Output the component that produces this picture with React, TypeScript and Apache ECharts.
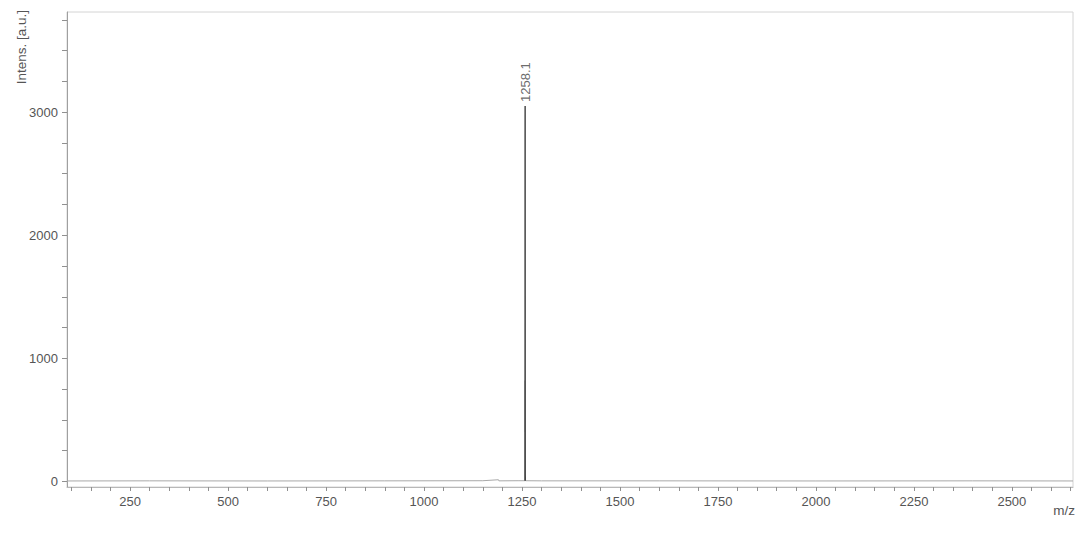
import React, { useEffect, useRef } from "react";
import * as echarts from "echarts";

// m/z values and intensities
const mzValues = [89, 300, 600, 900, 1150, 1190, 1191, 1240, 1257.4, 1257.7, 1257.8, 1257.9, 1258.0, 1258.1, 1258.2, 1258.3, 1258.5, 1258.8, 1300, 1600, 2000, 2400, 2656];
const intensities = [4, 5, 4, 5, 6, 14, 5, 6, 6, 820, 400, 1120, 2750, 3050, 1500, 820, 60, 6, 5, 5, 4, 5, 4];
const peakLabelMz = 1258.1;

const xTickValues = [100, 150, 200, 250, 300, 350, 400, 450, 500, 550, 600, 650, 700, 750, 800, 850, 900, 950, 1000, 1050, 1100, 1150, 1200, 1250, 1300, 1350, 1400, 1450, 1500, 1550, 1600, 1650, 1700, 1750, 1800, 1850, 1900, 1950, 2000, 2050, 2100, 2150, 2200, 2250, 2300, 2350, 2400, 2450, 2500, 2550, 2600, 2650];
const xLabelValues = [250, 500, 750, 1000, 1250, 1500, 1750, 2000, 2250, 2500];
const yTickValues = [0, 250, 500, 750, 1000, 1250, 1500, 1750, 2000, 2250, 2500, 2750, 3000, 3250, 3500, 3750];
const yLabelValues = [0, 1000, 2000, 3000];

export default function App() {
  const ref = useRef<HTMLDivElement>(null);
  useEffect(() => {
    if (!ref.current) return;
    const chart = echarts.init(ref.current, undefined, { renderer: "svg" });
    const font = "'Liberation Sans', Arial, sans-serif";
    const allPoints = mzValues.map((m, i) => [m, intensities[i]]);
    const peakPoints = allPoints.filter((p) => p[0] >= 1257 && p[0] <= 1259);
    const labelIdx = mzValues.indexOf(peakLabelMz);
    chart.setOption({
      animation: false,
      backgroundColor: "#ffffff",
      grid: {
        left: 67,
        right: 6,
        top: 12,
        bottom: 53,
        show: true,
        borderColor: "#d4d4d4",
        borderWidth: 1,
        backgroundColor: "transparent",
      },
      xAxis: {
        type: "value",
        min: 89,
        max: 2656,
        axisLine: { show: true, onZero: false, lineStyle: { color: "#b8b8b8", width: 1 } },
        axisTick: { show: true, customValues: xTickValues, length: 4, lineStyle: { color: "#909090" } },
        axisLabel: {
          customValues: xLabelValues,
          formatter: (v: number) => String(v),
          color: "#555",
          fontSize: 13,
          fontFamily: font,
          margin: 8,
        },
        splitLine: { show: false },
      },
      yAxis: {
        type: "value",
        min: -45,
        max: 3814,
        axisLine: { show: true, lineStyle: { color: "#a0a0a0", width: 1 } },
        axisTick: { show: true, customValues: yTickValues, length: 5, lineStyle: { color: "#909090" } },
        axisLabel: {
          customValues: yLabelValues,
          formatter: (v: number) => String(v),
          color: "#555",
          fontSize: 13,
          fontFamily: font,
          margin: 9,
        },
        splitLine: { show: false },
      },
      series: [
        {
          type: "line",
          data: allPoints,
          showSymbol: false,
          symbol: "none",
          lineStyle: { color: "#a8a8a8", width: 1 },
          z: 2,
        },
        {
          type: "line",
          data: peakPoints,
          showSymbol: false,
          symbol: "none",
          lineStyle: { color: "#444", width: 1.2 },
          z: 3,
        },
        {
          type: "scatter",
          data: [[mzValues[labelIdx], intensities[labelIdx]]],
          symbolSize: 0.1,
          itemStyle: { color: "transparent" },
          label: {
            show: true,
            formatter: String(peakLabelMz),
            position: "top",
            distance: 4,
            rotate: 90,
            align: "left",
            verticalAlign: "middle",
            color: "#444",
            fontSize: 13,
            fontFamily: font,
          },
          z: 4,
        },
      ],
      graphic: [
        {
          type: "text",
          x: 21,
          y: 10,
          rotation: Math.PI / 2,
          style: {
            text: "Intens. [a.u.]",
            align: "right",
            verticalAlign: "middle",
            fill: "#555",
            fontSize: 13.5,
            fontFamily: font,
          },
        },
        {
          type: "text",
          x: 1075,
          y: 510,
          style: {
            text: "m/z",
            align: "right",
            verticalAlign: "middle",
            fill: "#555",
            fontSize: 13.5,
            fontFamily: font,
          },
        },
      ],
    });
    return () => chart.dispose();
  }, []);
  return (
    <div
      ref={ref}
      style={{ position: "fixed", left: 0, top: 0, width: 1079, height: 540 }}
    />
  );
}
